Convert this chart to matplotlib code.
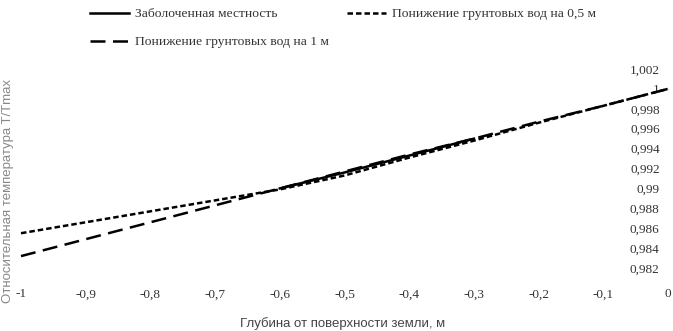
import matplotlib
matplotlib.use("Agg")
import matplotlib.pyplot as plt

# depth (m) and relative temperature T/Tmax
depth = [-1.0, -0.9, -0.8, -0.7, -0.6, -0.5, -0.4, -0.3, -0.2, -0.1, 0.0]
water_05 = [0.9855, 0.9866, 0.9877, 0.9888, 0.9899, 0.9913, 0.9931, 0.9948, 0.9966, 0.9983, 1.0000]
water_1 = [0.9832, 0.9849, 0.9866, 0.9883, 0.9900, 0.9917, 0.9934, 0.9950, 0.9967, 0.9983, 1.0000]
swamp_x = [-0.6, -0.5, -0.4, -0.3]
swamp = [0.9900, 0.9916, 0.9933, 0.9950]

xticks = [-1.0, -0.9, -0.8, -0.7, -0.6, -0.5, -0.4, -0.3, -0.2, -0.1, 0.0]
xtick_labels = ["-1", "-0,9", "-0,8", "-0,7", "-0,6", "-0,5", "-0,4", "-0,3", "-0,2", "-0,1", "0"]
yticks = [0.982, 0.984, 0.986, 0.988, 0.990, 0.992, 0.994, 0.996, 0.998, 1.000, 1.002]
ytick_labels = ["0,982", "0,984", "0,986", "0,988", "0,99", "0,992", "0,994", "0,996", "0,998", "1", "1,002"]

W, H = 673, 331
fig = plt.figure(figsize=(W / 100, H / 100), dpi=100)
ax = fig.add_axes([21 / W, 1 - 280 / H, 647 / W, 213 / H])

l1, = ax.plot(swamp_x, swamp, color="black", lw=1.8, ls="-")
l3, = ax.plot(depth, water_1, color="black", lw=1.8, ls=(0, (6, 3)))
l2, = ax.plot(depth, water_05, color="black", lw=1.8, ls=(0, (2.2, 1.2)))

ax.set_xlim(-1.0, 0.0)
ax.set_ylim(0.9808, 1.0022)
for s in ax.spines.values():
    s.set_visible(False)

tick_font = dict(family="Liberation Serif", size=9.5)
ax.set_xticks(xticks)
ax.set_xticklabels(xtick_labels, **tick_font, color="#333333")
ax.set_yticks(yticks)
ax.yaxis.tick_right()
ax.set_yticklabels(ytick_labels, **tick_font, color="#333333")
for lab in ax.get_yticklabels():
    lab.set_horizontalalignment("right")
ax.tick_params(axis="y", length=0, pad=-6)
ax.tick_params(axis="x", length=0, pad=6)
for ln in (l1, l2, l3):
    ln.set_clip_on(False)

fig.text(8 / W, 1 - 191 / H, "Относительная температура T/Tmax", rotation=90,
         ha="center", va="center", family="Liberation Sans", size=9.5, color="#888888")
fig.text(343 / W, 1 - 324 / H, "Глубина от поверхности земли, м",
         ha="center", va="center", family="Liberation Sans", size=9.5, color="#444444")

fig.legend([l1, l3, l2],
           ["Заболоченная местность", "Понижение грунтовых вод на 1 м",
            "Понижение грунтовых вод на 0,5 м"],
           loc="upper left", bbox_to_anchor=(90 / W, 1 - 8 / H), ncol=2,
           frameon=False, borderpad=0, borderaxespad=0, handlelength=2.9,
           handletextpad=0.45, columnspacing=1.3, labelspacing=1.15,
           prop=dict(family="Liberation Serif", size=9.7), labelcolor="#333333")

fig.savefig("out.png", dpi=100)
